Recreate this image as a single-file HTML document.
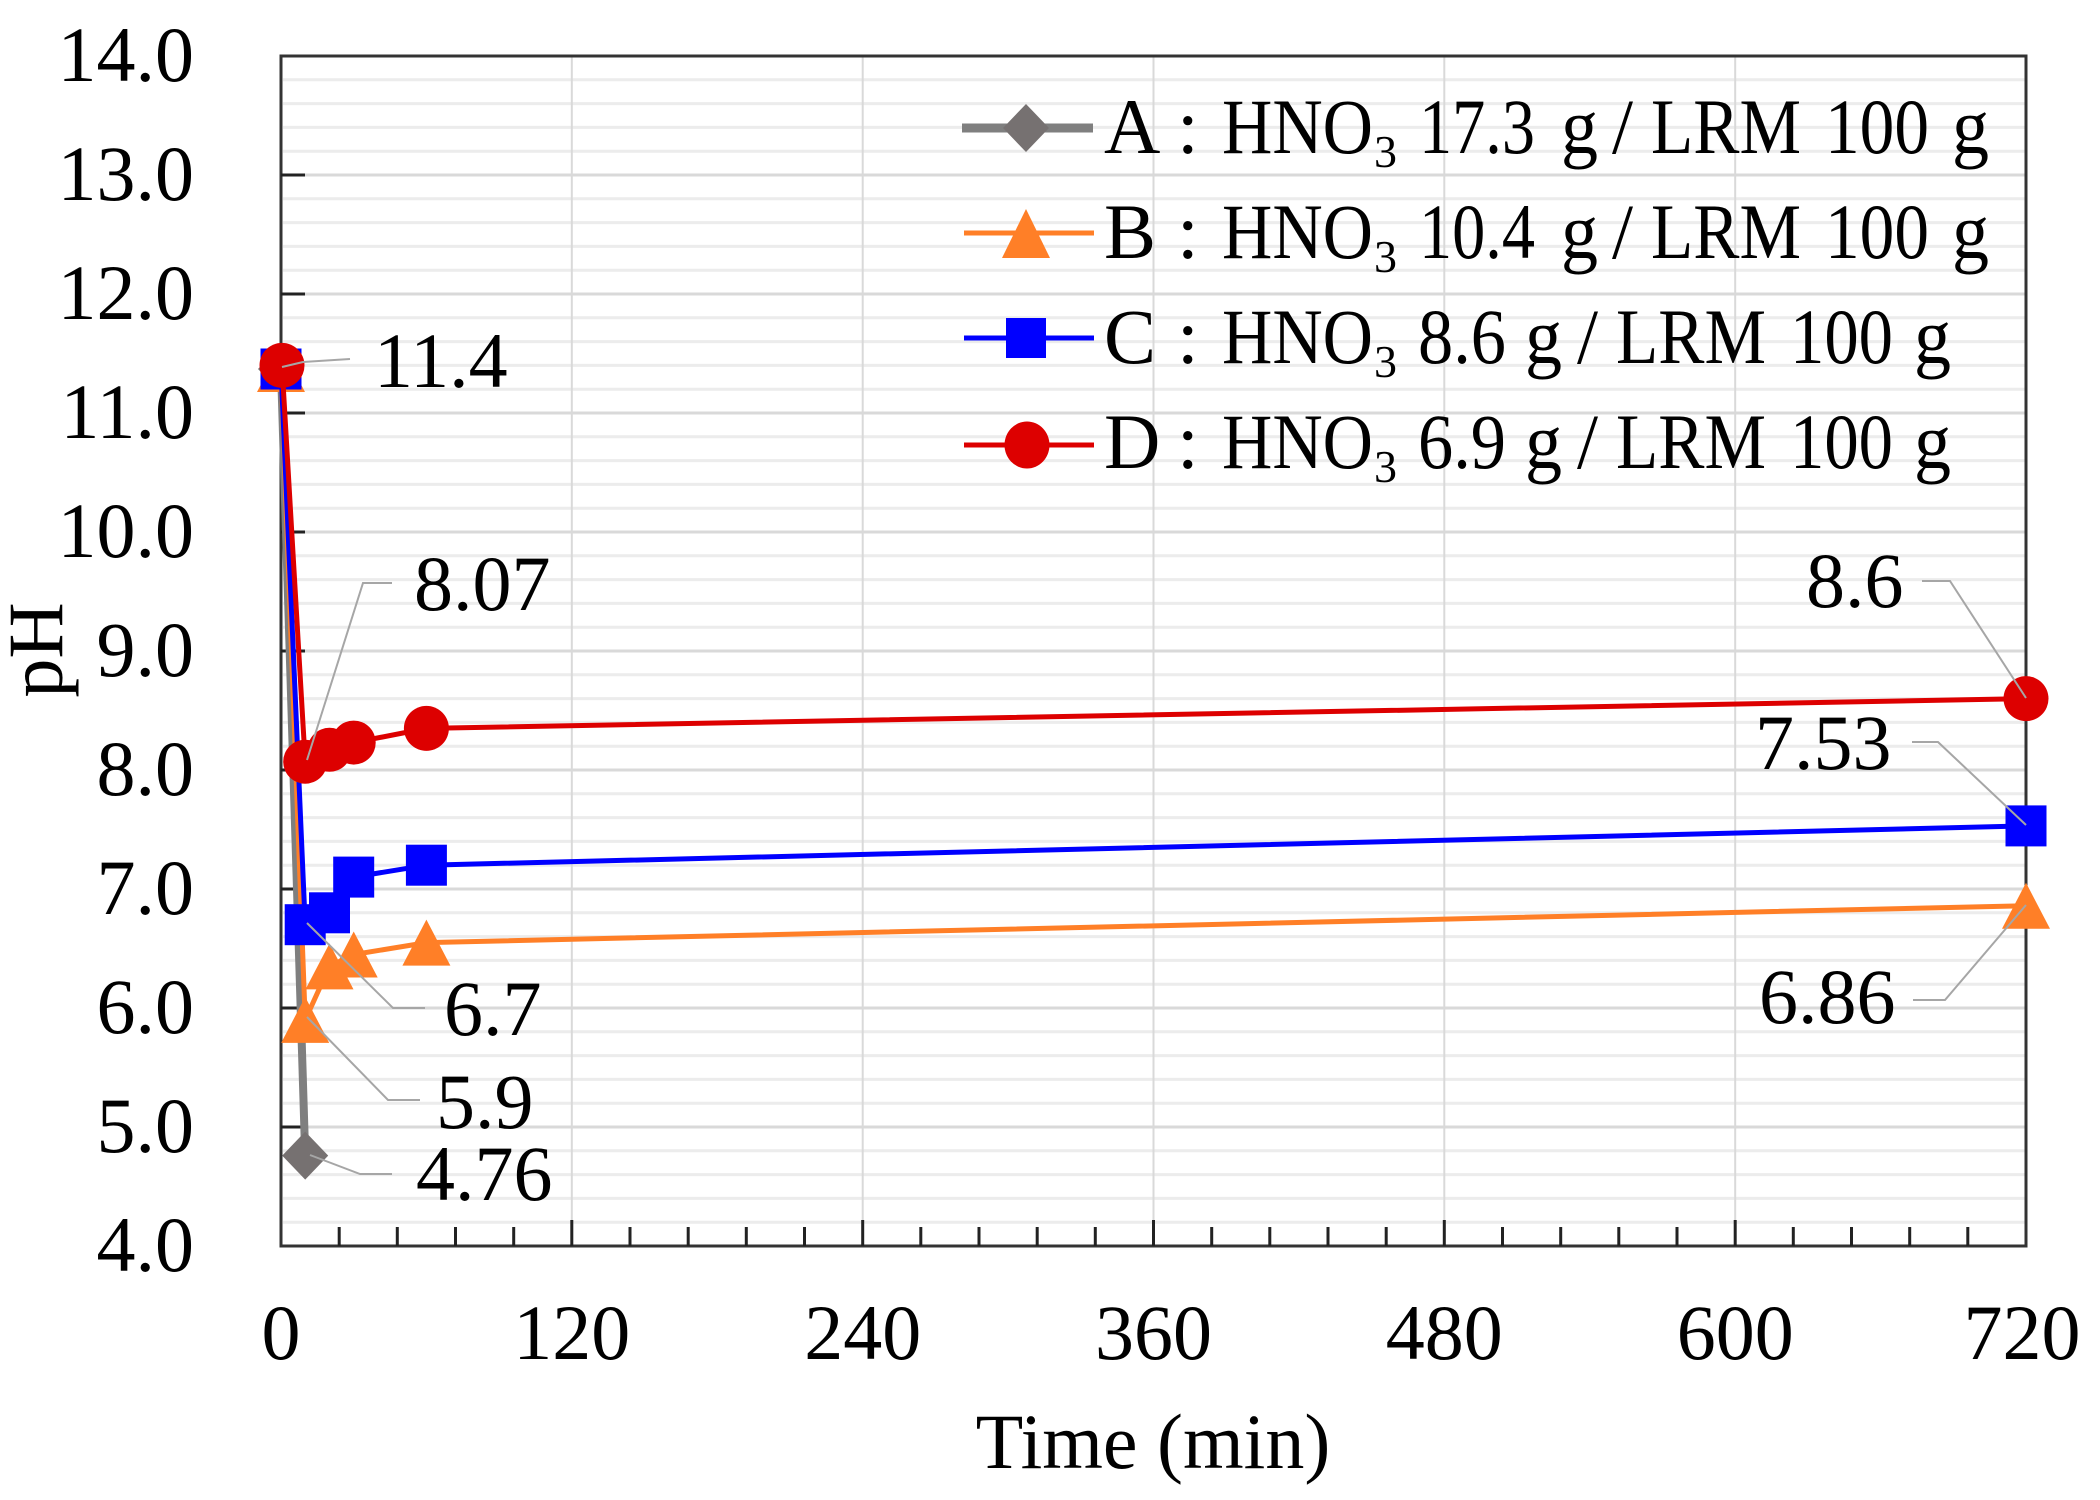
<!DOCTYPE html>
<html><head><meta charset="utf-8"><style>
html,body{margin:0;padding:0;background:#fff;}
svg{display:block;}
text{font-family:"Liberation Serif","Times New Roman",serif;fill:#000;}
</style></head><body>
<svg width="2100" height="1500" viewBox="0 0 2100 1500" xmlns="http://www.w3.org/2000/svg">
<rect x="0" y="0" width="2100" height="1500" fill="#fff"/>
<!-- minor gridlines -->
<path fill="none" stroke="#ececec" stroke-width="3" d="M283 1222.2H2026M283 1198.4H2026M283 1174.6H2026M283 1150.8H2026M283 1103.2H2026M283 1079.4H2026M283 1055.6H2026M283 1031.8H2026M283 984.2H2026M283 960.4H2026M283 936.6H2026M283 912.8H2026M283 865.2H2026M283 841.4H2026M283 817.6H2026M283 793.8H2026M283 746.2H2026M283 722.4H2026M283 698.6H2026M283 674.8H2026M283 627.2H2026M283 603.4H2026M283 579.6H2026M283 555.8H2026M283 508.2H2026M283 484.4H2026M283 460.6H2026M283 436.8H2026M283 389.2H2026M283 365.4H2026M283 341.6H2026M283 317.8H2026M283 270.2H2026M283 246.4H2026M283 222.6H2026M283 198.8H2026M283 151.2H2026M283 127.4H2026M283 103.6H2026M283 79.8H2026"/>
<!-- major horizontal gridlines -->
<path fill="none" stroke="#d9d9d9" stroke-width="3" d="M283 1127H2026M283 1008H2026M283 889H2026M283 770H2026M283 651H2026M283 532H2026M283 413H2026M283 294H2026M283 175H2026"/>
<!-- vertical gridlines -->
<path fill="none" stroke="#d9d9d9" stroke-width="2" d="M571.8 56V1246M862.7 56V1246M1153.5 56V1246M1444.3 56V1246M1735.2 56V1246"/>
<!-- frame -->
<rect x="281" y="56" width="1745" height="1190" fill="none" stroke="#333" stroke-width="3"/>
<!-- y ticks -->
<path fill="none" stroke="#222" stroke-width="3" d="M281 1127H305M281 1008H305M281 889H305M281 770H305M281 651H305M281 532H305M281 413H305M281 294H305M281 175H305"/>
<!-- x ticks minor -->
<path fill="none" stroke="#222" stroke-width="3" d="M339.2 1246V1227M397.3 1246V1227M455.5 1246V1227M513.7 1246V1227M630 1246V1227M688.2 1246V1227M746.3 1246V1227M804.5 1246V1227M920.8 1246V1227M979 1246V1227M1037.2 1246V1227M1095.3 1246V1227M1211.7 1246V1227M1269.8 1246V1227M1328 1246V1227M1386.2 1246V1227M1502.5 1246V1227M1560.7 1246V1227M1618.8 1246V1227M1677 1246V1227M1793.3 1246V1227M1851.5 1246V1227M1909.7 1246V1227M1967.8 1246V1227"/>
<path fill="none" stroke="#222" stroke-width="3" d="M571.8 1246V1220M862.7 1246V1220M1153.5 1246V1220M1444.3 1246V1220M1735.2 1246V1220"/>

<!-- y tick labels -->
<g font-size="78" text-anchor="end">
<text x="194" y="1271">4.0</text>
<text x="194" y="1152">5.0</text>
<text x="194" y="1033">6.0</text>
<text x="194" y="914">7.0</text>
<text x="194" y="795">8.0</text>
<text x="194" y="676">9.0</text>
<text x="194" y="557">10.0</text>
<text x="194" y="438">11.0</text>
<text x="194" y="319">12.0</text>
<text x="194" y="200">13.0</text>
<text x="194" y="81">14.0</text>
</g>
<!-- x tick labels -->
<g font-size="78" text-anchor="middle">
<text x="281" y="1359">0</text>
<text x="571.8" y="1359">120</text>
<text x="862.7" y="1359">240</text>
<text x="1153.5" y="1359">360</text>
<text x="1444.3" y="1359">480</text>
<text x="1735.2" y="1359">600</text>
<text x="2022" y="1359">720</text>
</g>
<!-- axis titles -->
<text x="1153" y="1468" font-size="78" text-anchor="middle">Time (min)</text>
<text transform="translate(62,650) rotate(-90)" font-size="78" text-anchor="middle">pH</text>

<!-- Series A -->
<polyline fill="none" stroke="#7f7f7f" stroke-width="8" points="281,369 305.2,1155.6"/>
<polygon fill="#767171" points="281,345 304,369 281,393 258,369"/>
<polygon fill="#767171" points="305.2,1131.6 328.2,1155.6 305.2,1179.6 282.2,1155.6"/>

<!-- Series B -->
<polyline fill="none" stroke="#ff7f27" stroke-width="5" points="281,369 305.2,1019.9 329.5,966.4 353.7,954.5 426.4,942.6 2026,905.7"/>
<g fill="#ff7f27">
<polygon points="281,346 305,392 257,392"/>
<polygon points="305.2,996.9 329.2,1042.9 281.2,1042.9"/>
<polygon points="329.5,943.4 353.5,989.4 305.5,989.4"/>
<polygon points="353.7,931.5 377.7,977.5 329.7,977.5"/>
<polygon points="426.4,919.6 450.4,965.6 402.4,965.6"/>
<polygon points="2026,882.7 2050,928.7 2002,928.7"/>
</g>

<!-- Series C -->
<polyline fill="none" stroke="#0000ff" stroke-width="5" points="281,369 305.2,924.7 329.5,912.8 353.7,877.1 426.4,865.2 2026,825.9"/>
<g fill="#0000ff">
<rect x="260.5" y="348.5" width="41" height="41"/>
<rect x="284.7" y="904.2" width="41" height="41"/>
<rect x="309" y="892.3" width="41" height="41"/>
<rect x="333.2" y="856.6" width="41" height="41"/>
<rect x="405.9" y="844.7" width="41" height="41"/>
<rect x="2005.5" y="805.4" width="41" height="41"/>
</g>

<!-- Series D -->
<polyline fill="none" stroke="#dd0000" stroke-width="5" points="282,365.4 305.2,761.7 329.5,749.8 353.7,742.6 426.4,728.4 2026,698.6"/>
<g fill="#dd0000">
<circle cx="282" cy="365.4" r="22.5"/>
<circle cx="305.2" cy="761.7" r="22"/>
<circle cx="329.5" cy="749.8" r="22"/>
<circle cx="353.7" cy="742.6" r="22"/>
<circle cx="426.4" cy="728.4" r="22.5"/>
<circle cx="2026" cy="698.6" r="22.5"/>
</g>

<!-- leader lines -->
<g fill="none" stroke="#a6a6a6" stroke-width="2">
<polyline points="282,367 303,362 350,359"/>
<polyline points="307,760 363,583 392,583"/>
<polyline points="307,923 393,1008 425,1008"/>
<polyline points="307,1017 388,1100 420,1100"/>
<polyline points="310,1155 360,1174 392,1174"/>
<polyline points="2026,698 1950,581 1922,581"/>
<polyline points="2026,825 1938,742 1912,742"/>
<polyline points="2026,905 1945,1000 1913,1000"/>
</g>

<!-- data labels -->
<g font-size="78">
<text x="374" y="387">11.4</text>
<text x="414" y="610">8.07</text>
<text x="444" y="1035">6.7</text>
<text x="436" y="1128">5.9</text>
<text x="416" y="1200">4.76</text>
<text x="1806" y="607">8.6</text>
<text x="1755" y="769">7.53</text>
<text x="1759" y="1023">6.86</text>
</g>

<!-- legend -->
<g>
<line x1="962" y1="128" x2="1093" y2="128" stroke="#7f7f7f" stroke-width="9"/>
<polygon fill="#767171" points="1026,104 1049,128 1026,152 1003,128"/>
<line x1="964" y1="233" x2="1094" y2="233" stroke="#ff7f27" stroke-width="5"/>
<polygon fill="#ff7f27" points="1026,209 1050,258 1002,258"/>
<line x1="964" y1="338" x2="1094" y2="338" stroke="#0000ff" stroke-width="5"/>
<rect x="1006" y="318" width="40" height="40" fill="#0000ff"/>
<line x1="964" y1="445" x2="1094" y2="445" stroke="#dd0000" stroke-width="5"/>
<ellipse cx="1027" cy="445" rx="22.5" ry="23.5" fill="#dd0000"/>
</g>
<g font-size="78">
<!-- Row A -->
<text x="1104" y="153">A</text>
<text x="1177" y="153">:</text>
<text x="1222" y="153" textLength="151" lengthAdjust="spacingAndGlyphs">HNO</text>
<text x="1374" y="167" font-size="46">3</text>
<text x="1419" y="153" textLength="116" lengthAdjust="spacingAndGlyphs">17.3</text>
<text x="1561" y="153" textLength="37" lengthAdjust="spacingAndGlyphs">g</text>
<text x="1612" y="153" textLength="21" lengthAdjust="spacingAndGlyphs">/</text>
<text x="1651" y="153" textLength="150" lengthAdjust="spacingAndGlyphs">LRM</text>
<text x="1825" y="153" textLength="104" lengthAdjust="spacingAndGlyphs">100</text>
<text x="1952" y="153" textLength="37" lengthAdjust="spacingAndGlyphs">g</text>
<!-- Row B -->
<text x="1104" y="258">B</text>
<text x="1177" y="258">:</text>
<text x="1222" y="258" textLength="151" lengthAdjust="spacingAndGlyphs">HNO</text>
<text x="1374" y="272" font-size="46">3</text>
<text x="1419" y="258" textLength="116" lengthAdjust="spacingAndGlyphs">10.4</text>
<text x="1561" y="258" textLength="37" lengthAdjust="spacingAndGlyphs">g</text>
<text x="1612" y="258" textLength="21" lengthAdjust="spacingAndGlyphs">/</text>
<text x="1651" y="258" textLength="150" lengthAdjust="spacingAndGlyphs">LRM</text>
<text x="1825" y="258" textLength="104" lengthAdjust="spacingAndGlyphs">100</text>
<text x="1952" y="258" textLength="37" lengthAdjust="spacingAndGlyphs">g</text>
<!-- Row C -->
<text x="1104" y="363">C</text>
<text x="1177" y="363">:</text>
<text x="1222" y="363" textLength="151" lengthAdjust="spacingAndGlyphs">HNO</text>
<text x="1374" y="377" font-size="46">3</text>
<text x="1418" y="363" textLength="88" lengthAdjust="spacingAndGlyphs">8.6</text>
<text x="1525" y="363" textLength="37" lengthAdjust="spacingAndGlyphs">g</text>
<text x="1577" y="363" textLength="21" lengthAdjust="spacingAndGlyphs">/</text>
<text x="1616" y="363" textLength="150" lengthAdjust="spacingAndGlyphs">LRM</text>
<text x="1790" y="363" textLength="103" lengthAdjust="spacingAndGlyphs">100</text>
<text x="1914" y="363" textLength="37" lengthAdjust="spacingAndGlyphs">g</text>
<!-- Row D -->
<text x="1104" y="468">D</text>
<text x="1177" y="468">:</text>
<text x="1222" y="468" textLength="151" lengthAdjust="spacingAndGlyphs">HNO</text>
<text x="1374" y="482" font-size="46">3</text>
<text x="1418" y="468" textLength="88" lengthAdjust="spacingAndGlyphs">6.9</text>
<text x="1525" y="468" textLength="37" lengthAdjust="spacingAndGlyphs">g</text>
<text x="1577" y="468" textLength="21" lengthAdjust="spacingAndGlyphs">/</text>
<text x="1616" y="468" textLength="150" lengthAdjust="spacingAndGlyphs">LRM</text>
<text x="1790" y="468" textLength="103" lengthAdjust="spacingAndGlyphs">100</text>
<text x="1914" y="468" textLength="37" lengthAdjust="spacingAndGlyphs">g</text>
</g>
</svg>
</body></html>
